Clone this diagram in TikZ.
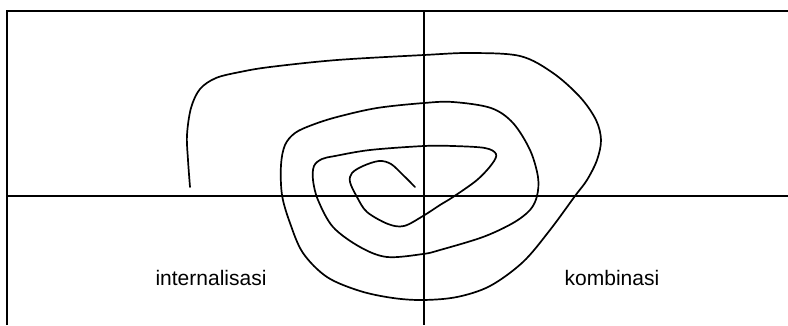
\documentclass[tikz,border=0pt]{standalone}
\usepackage{fontspec}
\setmainfont{Liberation Sans}
\begin{document}
\begin{tikzpicture}[x=1pt,y=-1pt,
  frame/.style={line width=2pt},
  spiral/.style={line width=1.7pt, line cap=round, line join=round},
  label/.style={font=\fontsize{21}{24}\selectfont, anchor=base, inner sep=0pt}]
\useasboundingbox (0,0) rectangle (788,325);
% frame and axes
\coordinate (tl) at (7,11);
\coordinate (tr) at (788,11);
\coordinate (bl) at (7,325);
\coordinate (ml) at (7,196);
\coordinate (mr) at (788,196);
\coordinate (vt) at (424,11);
\coordinate (vb) at (424,325);
\draw[frame] (bl) -- (tl) -- (tr);
\draw[frame] (ml) -- (mr);
\draw[frame] (vt) -- (vb);
% spiral
\draw[spiral] plot[smooth, tension=0.55] coordinates {
 (190,187) (188,160) (187,135) (191,108) (200,89) (216,78) (240,72) (270,67)
 (337,60) (424,55) (470,53) (520,56) (553,73) (580,97) (596,120) (601,140)
 (597,160) (587,180) (575,196) (550,230) (523,262) (490,286) (457,297) (423,300)
 (393,298) (360,291) (327,277) (303,253) (290,223) (282,195) (281,165) (285,145)
 (295,133) (312,125) (337,117) (377,108) (424,103) (453,102) (491,108) (513,123)
 (530,150) (538,177) (537,196) (530,210) (513,223) (483,237) (440,250) (423,254)
 (387,257) (360,247) (333,227) (318,200) (313,180) (314,166) (322,159) (335,156)
 (370,150) (424,146) (453,146) (485,148) (496,154) (492,164) (477,180) (453,197)
 (440,205) (423,216) (404,226) (388,224) (367,212) (357,197) (350,182) (352,173)
 (363,166) (379,161) (391,164) (403,175) (415,187)};
% labels
\node[label] (int) at (211,285) {internalisasi};
\node[label] (kom) at (612,285) {kombinasi};
\end{tikzpicture}
\end{document}
